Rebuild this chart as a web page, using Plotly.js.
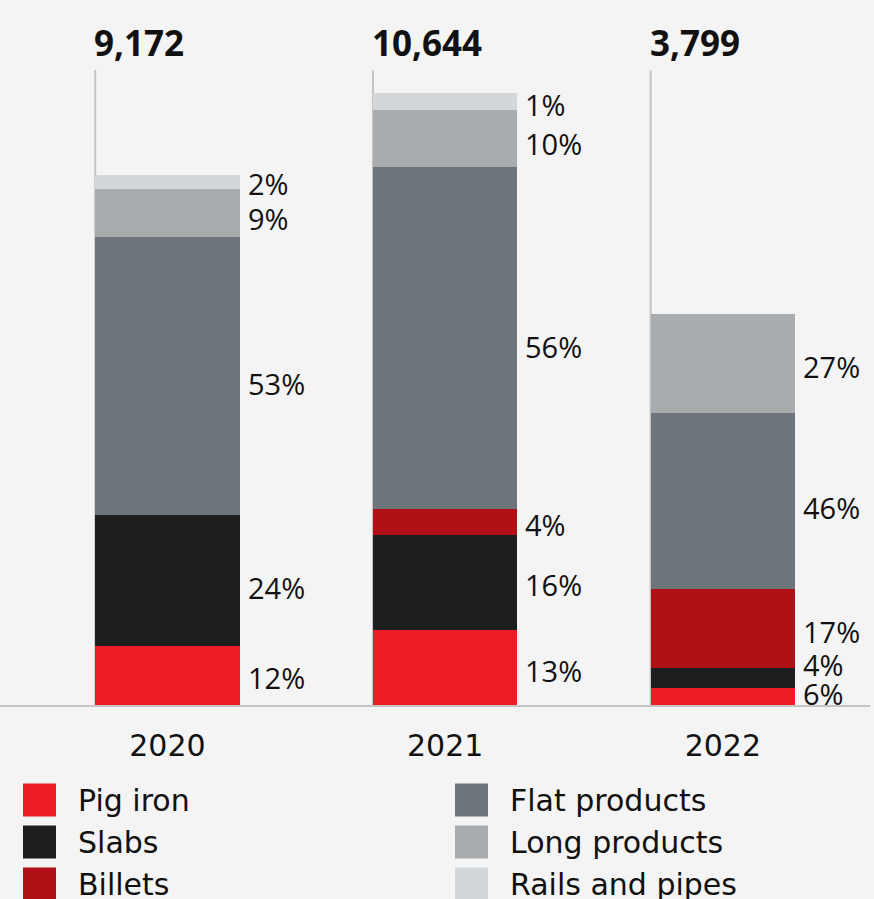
<!DOCTYPE html>
<html>
<head>
<meta charset="utf-8">
<script src="https://cdn.plot.ly/plotly-3.0.1.min.js"></script>
<style>
  html, body { margin: 0; padding: 0; background: #f4f4f4; }
  #chart { width: 874px; height: 899px; }
</style>
</head>
<body>
<div id="chart"></div>
<script>
// ---- data ----
const years = ['2020', '2021', '2022'];
const totalLabels = ['9,172', '10,644', '3,799'];
const seriesNames = ['Pig iron', 'Slabs', 'Billets', 'Flat products', 'Long products', 'Rails and pipes'];
// segment sizes as drawn (thousand tonnes)
const pigIron      = [1029, 1301, 300];
const slabs        = [2268, 1648, 347];
const billets      = [0,    451,  1365];
const flatProducts = [4823, 5939, 3059];
const longProducts = [833,  984,  1712];
const railsPipes   = [243,  300,  0];
// share labels
const pigIronPct      = ['12%', '13%', '6%'];
const slabsPct        = ['24%', '16%', '4%'];
const billetsPct      = ['',    '4%',  '17%'];
const flatProductsPct = ['53%', '56%', '46%'];
const longProductsPct = ['9%',  '10%', '27%'];
const railsPipesPct   = ['2%',  '1%',  ''];

// ---- style ----
const colors = ['#ed1c24', '#1d1f1e', '#b01117', '#6d747b', '#a8acaf', '#d4d7d9'];
const FONT = '"Open Sans", "DejaVu Sans", sans-serif';
const FONT_WIDE = '"DejaVu Sans", "Open Sans", sans-serif';
const TXT = '#111111';
const BAR_W = 0.52;
const W = 874, H = 899;
const M = {l: 0, r: 4, t: 70, b: 194};
const YMAX = 11017;
// small vertical nudges for share labels (px, positive = down), per series per year
const labelNudge = [
  [2.5, 2.5, -2.6],
  [7, 1.5, -13.7],
  [0, 2.5, 3],
  [8, 9, 7],
  [6, 5, 3],
  [2, 3, 0]
];

const seriesVals = [pigIron, slabs, billets, flatProducts, longProducts, railsPipes];
const seriesPct = [pigIronPct, slabsPct, billetsPct, flatProductsPct, longProductsPct, railsPipesPct];

const traces = seriesNames.map((name, s) => ({
  type: 'bar',
  name: name,
  x: years,
  y: seriesVals[s],
  width: BAR_W,
  marker: {color: colors[s], line: {width: 0}},
  showlegend: false,
  hoverinfo: 'skip'
}));

const annotations = [];
const shapes = [];

// share labels next to each segment
years.forEach((yr, i) => {
  let base = 0;
  seriesVals.forEach((vals, s) => {
    const v = vals[i];
    if (v > 0 && seriesPct[s][i]) {
      annotations.push({
        x: i + BAR_W / 2, xref: 'x', xshift: 6, xanchor: 'left',
        y: base + v / 2, yref: 'y', yanchor: 'middle', yshift: -labelNudge[s][i],
        text: seriesPct[s][i], showarrow: false,
        font: {family: FONT, size: 29, color: TXT}
      });
    }
    base += v;
  });
  // total label at the top
  annotations.push({
    x: i - BAR_W / 2, xref: 'x', xanchor: 'left', xshift: -3,
    y: 1, yref: 'paper', yanchor: 'bottom', yshift: 2,
    text: '<b>' + totalLabels[i] + '</b>', showarrow: false,
    font: {family: FONT, size: 35, color: TXT}
  });
  // leader line along left edge of the bar
  shapes.push({
    type: 'line', xref: 'x', yref: 'paper',
    x0: i - BAR_W / 2, x1: i - BAR_W / 2, y0: 0, y1: 1,
    line: {color: '#c4c4c4', width: 2}, layer: 'below'
  });
});

// custom legend (two columns, column-major), built from the series arrays
const pw = W - M.l - M.r, ph = H - M.t - M.b;
const px2x = px => (px - M.l) / pw;
const py2y = py => (H - M.b - py) / ph;
const colX = [23, 455];
const rowY = [800, 842, 884];
seriesNames.forEach((name, s) => {
  const col = Math.floor(s / 3), row = s % 3;
  const sx = colX[col], sy = rowY[row];
  shapes.push({
    type: 'rect', xref: 'paper', yref: 'paper',
    x0: px2x(sx), x1: px2x(sx + 33), y0: py2y(sy - 16.5), y1: py2y(sy + 16.5),
    fillcolor: colors[s], line: {width: 0}
  });
  annotations.push({
    x: px2x(sx + 53), xref: 'paper', xanchor: 'left',
    y: py2y(sy), yref: 'paper', yanchor: 'middle',
    text: name, showarrow: false,
    font: {family: FONT_WIDE, size: 30, color: TXT}
  });
});

const layout = {
  width: W, height: H,
  margin: M,
  paper_bgcolor: '#f4f4f4',
  plot_bgcolor: '#f4f4f4',
  barmode: 'stack',
  showlegend: false,
  xaxis: {
    type: 'category',
    range: [-0.603, 2.53],
    showgrid: false, zeroline: false,
    showline: true, linecolor: '#c4c4c4', linewidth: 2,
    ticks: 'outside', ticklen: 13, tickcolor: 'rgba(0,0,0,0)',
    tickfont: {family: FONT_WIDE, size: 30, color: TXT},
    fixedrange: true
  },
  yaxis: {
    range: [0, YMAX],
    showgrid: false, zeroline: false, showline: false,
    showticklabels: false, ticks: '',
    fixedrange: true
  },
  annotations: annotations,
  shapes: shapes
};

Plotly.newPlot('chart', traces, layout, {displayModeBar: false, staticPlot: true});
</script>
</body>
</html>
